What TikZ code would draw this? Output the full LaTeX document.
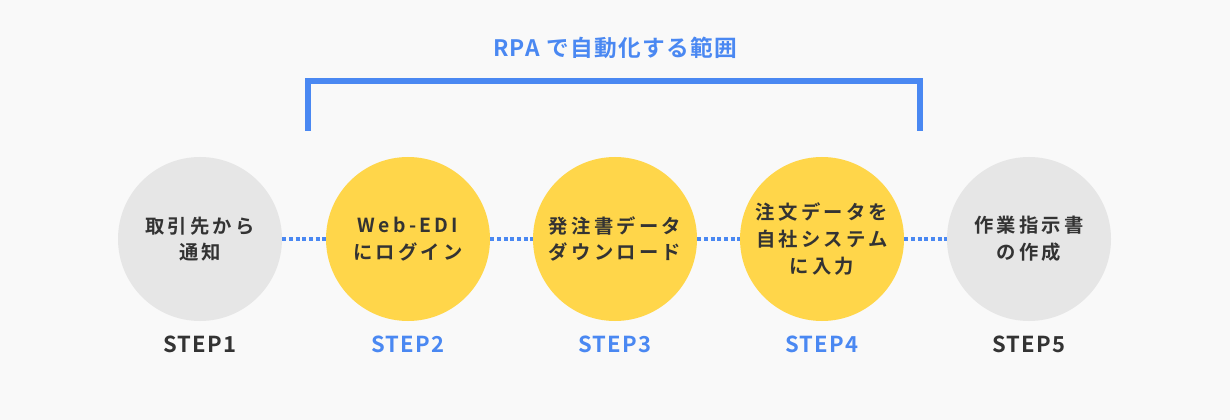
\documentclass[tikz,border=0pt]{standalone}
\usepackage{fontspec}
\setmainfont{Noto Sans CJK JP}[BoldFont=* Bold]
\newfontfamily\jpfont{Noto Sans CJK JP}[LetterSpace=17,BoldFont=* Bold]
\newfontfamily\titlefont{Noto Sans CJK JP}[LetterSpace=6,BoldFont=* Bold]
\usetikzlibrary{positioning}

\definecolor{bggray}{HTML}{F9F9F9}
\definecolor{stepgray}{HTML}{E6E6E6}
\definecolor{stepyellow}{HTML}{FFD64A}
\definecolor{rpablue}{HTML}{4A88F2}
\definecolor{textdark}{HTML}{333333}

\begin{document}
\begin{tikzpicture}[x=0.75pt,y=-0.75pt,
  stepcircle/.style={circle,inner sep=0pt,minimum size=123pt},
  manualstep/.style={stepcircle,fill=stepgray},
  rpastep/.style={stepcircle,fill=stepyellow},
  steptext/.style={align=center,text=textdark,font=\jpfont\bfseries\fontsize{14.5}{20}\selectfont},
  steplabel/.style={font=\titlefont\bfseries\fontsize{16.5}{18}\selectfont},
  link/.style={rpablue,line width=2.25pt,dash pattern=on 3pt off 2pt}]
  \fill[bggray] (0,0) rectangle (1230,420);
  \useasboundingbox (0,0) rectangle (1230,420);

  % range bracket
  \node[text=rpablue,font=\titlefont\bfseries\fontsize{17}{18}\selectfont] (title) at (615,48) {RPA で自動化する範囲};
  \coordinate (bl) at (307.7,130.7);
  \coordinate (br) at (920,130.7);
  \draw[rpablue,line width=4.5pt] (bl) |- (920,81) -- (br);

  % steps
  \node[manualstep] (s1) at (200,239) {};
  \node[rpastep] (s2) at (408,239) {};
  \node[rpastep] (s3) at (615,239) {};
  \node[rpastep] (s4) at (822,239) {};
  \node[manualstep] (s5) at (1029,239) {};

  \draw[link] (s1) -- (s2);
  \draw[link] (s2) -- (s3);
  \draw[link] (s3) -- (s4);
  \draw[link] (s4) -- (s5);

  \node[steptext] (t1) at (s1) {取引先から\\通知};
  \node[steptext] (t2) at (s2) {Web-EDI\\にログイン};
  \node[steptext] (t3) at (s3) {発注書データ\\ダウンロード};
  \node[steptext] (t4) at (s4) {注文データを\\自社システム\\に入力};
  \node[steptext] (t5) at (s5) {作業指示書\\の作成};

  \node[steplabel,text=textdark] (l1) at (200,344) {STEP1};
  \node[steplabel,text=rpablue] (l2) at (408,344) {STEP2};
  \node[steplabel,text=rpablue] (l3) at (615,344) {STEP3};
  \node[steplabel,text=rpablue] (l4) at (822,344) {STEP4};
  \node[steplabel,text=textdark] (l5) at (1029,344) {STEP5};
\end{tikzpicture}
\end{document}
